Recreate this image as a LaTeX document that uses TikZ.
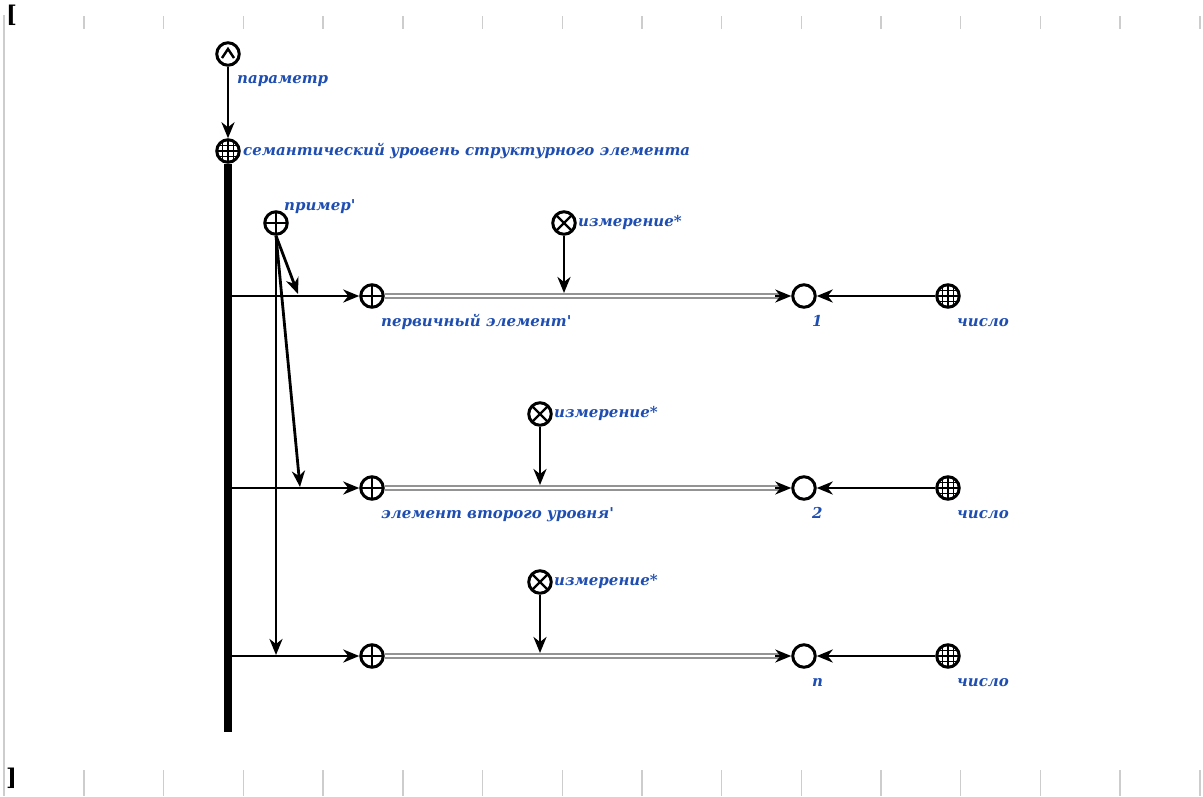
\documentclass[tikz,border=0pt]{standalone}
\usepackage{fontspec}
\newfontfamily\lblfont{DejaVu Serif}
\usetikzlibrary{arrows.meta}
\definecolor{lblblue}{RGB}{31,78,178}
\definecolor{tickgray}{RGB}{205,205,205}
\tikzset{
  sym/.style={circle, draw, line width=3pt, minimum size=22.5pt, inner sep=0pt},
  plus/.style={sym, path picture={
    \draw[line width=2.4pt] (path picture bounding box.north) -- (path picture bounding box.south);
    \draw[line width=2.4pt] (path picture bounding box.west) -- (path picture bounding box.east);}},
  cross/.style={sym, path picture={
    \draw[line width=2.4pt] (path picture bounding box.north west) -- (path picture bounding box.south east);
    \draw[line width=2.4pt] (path picture bounding box.north east) -- (path picture bounding box.south west);}},
  gridc/.style={sym, path picture={
    \foreach \k in {-5.5,0,5.5}{
      \draw[line width=1.6pt] ([xshift=\k pt,yshift=-14pt]path picture bounding box.center) -- ([xshift=\k pt,yshift=14pt]path picture bounding box.center);
      \draw[line width=1.6pt] ([yshift=\k pt,xshift=-14pt]path picture bounding box.center) -- ([yshift=\k pt,xshift=14pt]path picture bounding box.center);}}},
  hat/.style={sym, path picture={
    \draw[line width=2.4pt, line join=miter] ([xshift=-6pt,yshift=-4pt]path picture bounding box.center) -- ([yshift=5pt]path picture bounding box.center) -- ([xshift=6pt,yshift=-4pt]path picture bounding box.center);}},
  lbl/.style={anchor=base west, inner sep=0pt, text=lblblue, font=\lblfont\bfseries\itshape\fontsize{15}{18}\selectfont},
  arr/.style={line width=2.8pt, -{Stealth[length=16pt, width=13pt, inset=5pt]}},
  dbl/.style={draw=gray!85, line width=1.7pt, double=white, double distance=1.8pt},
  tick/.style={draw=tickgray, line width=1.4pt}
}
\begin{document}
\begin{tikzpicture}[x=1pt, y=-1pt]
\useasboundingbox (0,0) rectangle (1203,796);
% frame decorations
\draw[tick] (4,15) -- (4,796);
\foreach \i in {0,...,14}{
  \draw[tick] ({84+79.7*\i},16) -- ({84+79.7*\i},29);
  \draw[tick] ({84+79.7*\i},770) -- ({84+79.7*\i},796);
}
\node[anchor=north west, inner sep=0pt, font=\lblfont\bfseries\fontsize{23}{23}\selectfont] (lb) at (6,5) {[};
\node[anchor=north west, inner sep=0pt, font=\lblfont\bfseries\fontsize{23}{23}\selectfont] (rb) at (6,768) {]};

% top nodes
\node[hat] (par) at (228,54) {};
\node[lbl] (parl) at (237,83) {параметр};
\node[gridc] (sem) at (228,151) {};
\node[lbl] (seml) at (243,155) {семантический уровень структурного элемента};
\draw[arr] (par) -- (sem);
\coordinate (barend) at (228,732);
\draw[line width=8pt] (sem.south) -- (barend);

% primer
\node[plus] (pr) at (276,223) {};
\node[lbl] (prl) at (284,210) {пример'};

% rows
\foreach \r/\y/\mx/\my/\num/\name in {1/296/564/223/1/первичный элемент',2/488/540/414/2/элемент второго уровня',3/656/540/582/n/}{
  \coordinate (b\r) at (232,\y);
  \node[plus] (s\r) at (372,\y) {};
  \node[sym] (c\r) at (804,\y) {};
  \node[gridc] (g\r) at (948,\y) {};
  \node[cross] (m\r) at (\mx,\my) {};
  \node[lbl] (ml\r) at (\mx+14,\my+3) {измерение*};
  \coordinate (d\r) at (\mx,\y-3);
  \draw[arr] (b\r) -- (s\r);
  \draw[dbl] (s\r.east) -- ([xshift=-12pt]c\r.west);
  \draw[line width=1.6pt, -{Stealth[length=16pt, width=13pt, inset=5pt]}] ([xshift=-16pt]c\r.west) -- (c\r.west);
  \draw[arr] (g\r) -- (c\r);
  \draw[arr] (m\r) -- (d\r);
  \node[lbl] (nl\r) at (812,\y+30) {\num};
  \node[lbl] (gl\r) at (957,\y+30) {число};
  \node[lbl] (sl\r) at (381,\y+30) {\name};
}
\coordinate (p1) at (298,294);
\coordinate (p2) at (300,487);
\coordinate (p3) at (276,655);
\draw[arr] (pr.south) -- (p1);
\draw[arr] (pr.south) -- (p2);
\draw[arr] (pr.south) -- (p3);
\end{tikzpicture}
\end{document}
